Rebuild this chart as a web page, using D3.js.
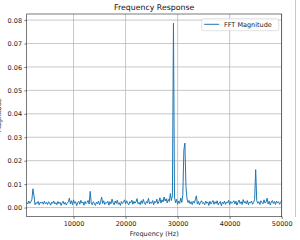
<!DOCTYPE html>
<html>
<head>
<meta charset="utf-8">
<script src="https://cdn.jsdelivr.net/npm/d3@7"></script>
<style>
  body { margin: 0; background: #fff; }
  svg { display: block; font-family: 'DejaVu Sans', sans-serif; }
</style>
</head>
<body>
<svg id="chart" width="300" height="240"></svg>
<script>
// frequency grid start / step (Hz)
const freqStart = 1000;
const freqStep = 200;

// FFT magnitude, one value per 200 Hz from 1000 Hz to 50000 Hz
const magnitude = [
  0.0022, 0.0015, 0.0028, 0.0018, 0.0025, 0.0035, 0.0080, 0.0050, 0.0012, 0.0021,
  0.0017, 0.0026, 0.0011, 0.0023, 0.0019, 0.0024, 0.0014, 0.0027, 0.0016, 0.0022,
  0.0013, 0.0025, 0.0019, 0.0010, 0.0024, 0.0018, 0.0028, 0.0015, 0.0021, 0.0012,
  0.0026, 0.0017, 0.0023, 0.0009, 0.0020, 0.0027, 0.0014, 0.0022, 0.0011, 0.0019,
  0.0024, 0.0040, 0.0016, 0.0029, 0.0012, 0.0033, 0.0018, 0.0025, 0.0008, 0.0021,
  0.0027, 0.0014, 0.0031, 0.0019, 0.0024, 0.0010, 0.0026, 0.0017, 0.0022, 0.0030,
  0.0015, 0.0069, 0.0020, 0.0012, 0.0025, 0.0018, 0.0009, 0.0023, 0.0016, 0.0028,
  0.0011, 0.0024, 0.0045, 0.0017, 0.0029, 0.0013, 0.0022, 0.0019, 0.0027, 0.0010,
  0.0025, 0.0016, 0.0036, 0.0020, 0.0012, 0.0028, 0.0018, 0.0031, 0.0014, 0.0021,
  0.0009, 0.0026, 0.0017, 0.0023, 0.0033, 0.0015, 0.0029, 0.0019, 0.0011, 0.0025,
  0.0020, 0.0032, 0.0014, 0.0027, 0.0018, 0.0024, 0.0038, 0.0016, 0.0022, 0.0012,
  0.0029, 0.0017, 0.0035, 0.0021, 0.0013, 0.0026, 0.0019, 0.0040, 0.0015, 0.0024,
  0.0018, 0.0030, 0.0012, 0.0027, 0.0021, 0.0036, 0.0016, 0.0025, 0.0042, 0.0019,
  0.0033, 0.0024, 0.0045, 0.0028, 0.0038, 0.0020, 0.0035, 0.0026, 0.0060, 0.0030,
  0.0050, 0.0787, 0.0045, 0.0020, 0.0035, 0.0014, 0.0028, 0.0018, 0.0041, 0.0022,
  0.0055, 0.0245, 0.0275, 0.0090, 0.0038, 0.0021, 0.0030, 0.0016, 0.0025, 0.0013,
  0.0027, 0.0019, 0.0033, 0.0050, 0.0015, 0.0026, 0.0011, 0.0023, 0.0029, 0.0017,
  0.0021, 0.0012, 0.0028, 0.0018, 0.0024, 0.0009, 0.0027, 0.0015, 0.0022, 0.0030,
  0.0014, 0.0025, 0.0017, 0.0029, 0.0011, 0.0020, 0.0026, 0.0008, 0.0023, 0.0016,
  0.0028, 0.0013, 0.0024, 0.0019, 0.0031, 0.0012, 0.0026, 0.0018, 0.0022, 0.0029,
  0.0015, 0.0027, 0.0010, 0.0023, 0.0032, 0.0017, 0.0025, 0.0013, 0.0034, 0.0020,
  0.0026, 0.0016, 0.0030, 0.0012, 0.0024, 0.0019, 0.0028, 0.0014, 0.0022, 0.0035,
  0.0162, 0.0030, 0.0018, 0.0025, 0.0013, 0.0029, 0.0021, 0.0016, 0.0033, 0.0019,
  0.0024, 0.0040, 0.0015, 0.0027, 0.0011, 0.0023, 0.0030, 0.0017, 0.0026, 0.0013,
  0.0028, 0.0019, 0.0025, 0.0014, 0.0022, 0.0030
];

const xTicks = [10000, 20000, 30000, 40000, 50000];
const yTicks = [0, 0.01, 0.02, 0.03, 0.04, 0.05, 0.06, 0.07, 0.08];
const xDomain = [1000, 50000];
const yDomain = [-0.0039, 0.0826];

const titleText = 'Frequency Response';
const xLabel = 'Frequency (Hz)';
const yLabel = 'Magnitude';
const legendLabel = 'FFT Magnitude';

const plotL = 26.7, plotR = 281.7, plotT = 14, plotB = 216.7;
const lineColor = '#1f77b4';

const svg = d3.select('#chart');

const x = d3.scaleLinear().domain(xDomain).range([plotL, plotR]);
const y = d3.scaleLinear().domain(yDomain).range([plotB, plotT]);

svg.append('defs').append('clipPath').attr('id', 'clip')
  .append('rect')
  .attr('x', plotL).attr('y', plotT)
  .attr('width', plotR - plotL).attr('height', plotB - plotT);

// grid
const grid = svg.append('g').attr('class', 'grid');
grid.selectAll('line.gx')
  .data(xTicks)
  .join('line')
  .attr('class', 'gx')
  .attr('x1', d => x(d)).attr('x2', d => x(d))
  .attr('y1', plotT).attr('y2', plotB)
  .attr('stroke', '#b0b0b0')
  .attr('stroke-width', 0.7);
grid.selectAll('line.gy')
  .data(yTicks)
  .join('line')
  .attr('class', 'gy')
  .attr('x1', plotL).attr('x2', plotR)
  .attr('y1', d => y(d)).attr('y2', d => y(d))
  .attr('stroke', '#b0b0b0')
  .attr('stroke-width', 0.7);

// series
const line = d3
  .line()
  .x((d, i) => x(freqStart + i * freqStep))
  .y(d => y(d));

svg.append('path')
  .datum(magnitude)
  .attr('clip-path', 'url(#clip)')
  .attr('fill', 'none')
  .attr('stroke', lineColor)
  .attr('stroke-width', 1)
  .attr('stroke-linejoin', 'round')
  .attr('stroke-linecap', 'square')
  .attr('d', line);

// axes
const xAxis = svg.append('g')
  .attr('transform', `translate(0,${plotB})`)
  .call(d3.axisBottom(x).tickValues(xTicks).tickFormat(d3.format('d')).tickSize(2.3).tickPadding(2.3).tickSizeOuter(0));
const yAxis = svg.append('g')
  .attr('transform', `translate(${plotL},0)`)
  .call(d3.axisLeft(y).tickValues(yTicks).tickFormat(d3.format('.2f')).tickSize(2.3).tickPadding(2.3).tickSizeOuter(0));

[xAxis, yAxis].forEach(a => {
  a.select('.domain').remove();
  a.selectAll('line').attr('stroke', '#222').attr('stroke-width', 0.6);
  a.selectAll('text')
    .attr('font-family', "'DejaVu Sans', sans-serif")
    .attr('font-size', 6.5)
    .attr('fill', '#222');
});

// spines
svg.append('rect')
  .attr('x', plotL).attr('y', plotT)
  .attr('width', plotR - plotL).attr('height', plotB - plotT)
  .attr('fill', 'none')
  .attr('stroke', '#222')
  .attr('stroke-width', 0.6);

// title and labels
svg.append('text')
  .attr('x', (plotL + plotR) / 2).attr('y', 10.3)
  .attr('text-anchor', 'middle')
  .attr('font-size', 7.8)
  .attr('fill', '#111')
  .text(titleText);

svg.append('text')
  .attr('x', (plotL + plotR) / 2).attr('y', 235.5)
  .attr('text-anchor', 'middle')
  .attr('font-size', 6.5)
  .attr('fill', '#222')
  .text(xLabel);

svg.append('text')
  .attr('transform', `translate(1.2,${(plotT + plotB) / 2}) rotate(-90)`)
  .attr('text-anchor', 'middle')
  .attr('font-size', 6.5)
  .attr('fill', '#222')
  .text(yLabel);

// legend
const legend = svg.append('g').attr('transform', 'translate(201.7,18.7)');
legend.append('rect')
  .attr('width', 77).attr('height', 12)
  .attr('rx', 1.5)
  .attr('fill', '#fff').attr('fill-opacity', 0.8)
  .attr('stroke', '#ccc').attr('stroke-width', 0.6);
legend.append('line')
  .attr('x1', 2.5).attr('x2', 17.5)
  .attr('y1', 5.6).attr('y2', 5.6)
  .attr('stroke', lineColor).attr('stroke-width', 1);
legend.append('text')
  .attr('x', 22.3).attr('y', 8.1)
  .attr('font-size', 6.5)
  .attr('fill', '#222')
  .text(legendLabel);

// figure edge on the right
svg.append('line')
  .attr('x1', 295.5).attr('x2', 295.5)
  .attr('y1', 0).attr('y2', 217)
  .attr('stroke', '#c8c8c8').attr('stroke-width', 1);
</script>
</body>
</html>
